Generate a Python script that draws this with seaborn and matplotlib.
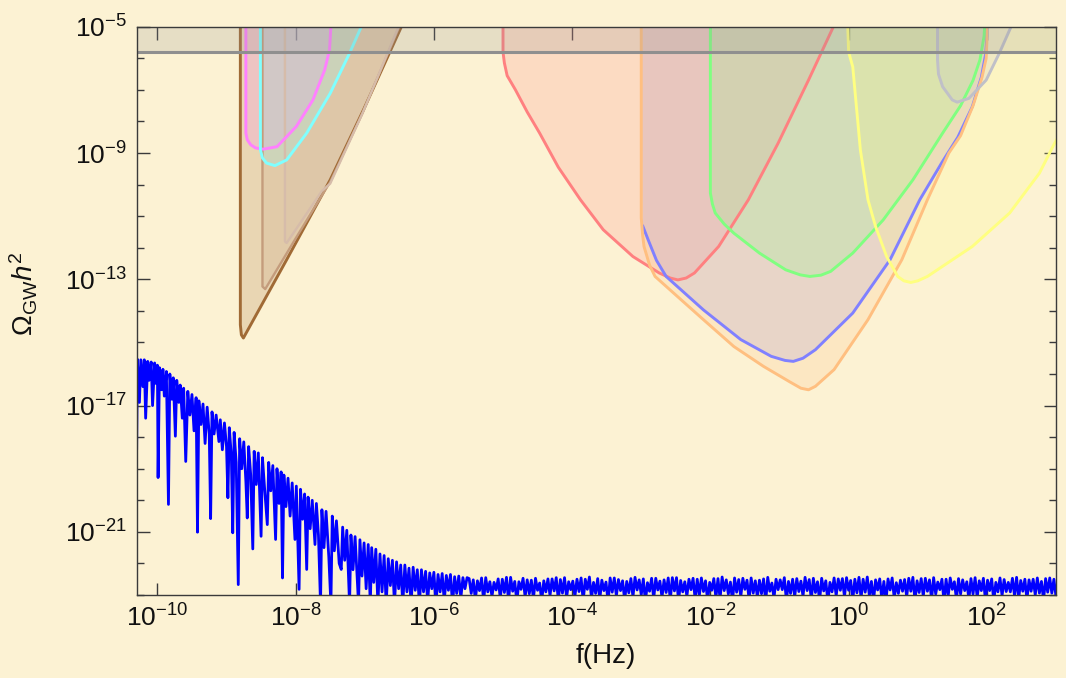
import numpy as np
import matplotlib
matplotlib.use('Agg')
import matplotlib.pyplot as plt
import seaborn as sns
from matplotlib.ticker import FixedLocator, FuncFormatter, NullFormatter

# ── Data (log10 f [Hz], log10 Omega_GW h^2) ─────────────────────────────────
brown_a_f = [-8.80, -8.80, -8.785, -8.756, -8.13, -7.50, -7.02, -6.47, -6.37]
brown_a_o = [-4.5, -14.44, -14.76, -14.86, -12.38, -9.85, -7.64, -5.0, -4.5]

brown_b_f = [-8.48, -8.48, -8.44, -8.02, -7.60, -7.50, -7.03, -6.50, -6.40]
brown_b_o = [-4.5, -13.23, -13.31, -11.78, -10.27, -9.92, -7.72, -5.0, -4.5]

brown_c_f = [-8.155, -8.155, -8.13, -7.85, -7.62, -7.50, -7.04, -6.51, -6.41]
brown_c_o = [-4.5, -11.80, -11.85, -10.95, -10.20, -9.97, -7.78, -5.0, -4.5]

magenta_f = [-8.72, -8.72, -8.70, -8.65, -8.58, -8.47, -8.27, -7.99, -7.75, -7.58, -7.51, -7.49, -7.49]
magenta_o = [-4.5, -8.37, -8.58, -8.74, -8.84, -8.88, -8.80, -8.16, -7.32, -6.37, -5.74, -5.0, -4.5]

cyan_f = [-8.51, -8.51, -8.48, -8.42, -8.30, -8.13, -7.84, -7.50, -7.22, -7.05, -6.99]
cyan_o = [-4.5, -8.90, -9.16, -9.32, -9.40, -9.22, -8.37, -7.11, -5.84, -5.0, -4.7]

red_f = [-5.00, -5.00, -4.98, -4.94, -4.82, -4.65, -4.47, -4.20, -3.88, -3.55, -3.12,
         -2.74, -2.58, -2.47, -2.35, -2.23, -1.88, -1.45, -1.02, -0.58, -0.22, -0.10]
red_o = [-4.5, -5.8, -6.15, -6.55, -7.00, -7.70, -8.37, -9.45, -10.48, -11.43, -12.28,
         -12.80, -12.96, -13.02, -12.96, -12.80, -11.96, -10.48, -8.69, -6.69, -5.0, -4.5]

orange_f = [-3.00, -3.00, -2.98, -2.96, -2.88, -2.80, -2.53, -2.10, -1.66, -1.23, -0.85,
            -0.69, -0.58, -0.48, -0.21, 0.28, 0.77, 1.14, 1.45, 1.62, 1.80, 1.93,
            1.99, 2.00, 2.00]
orange_o = [-4.5, -11.06, -11.60, -11.96, -12.55, -12.91, -13.44, -14.28, -15.13, -15.76, -16.25,
            -16.45, -16.50, -16.39, -15.86, -14.28, -12.38, -10.48, -9.00, -8.45, -7.50, -6.60,
            -6.00, -5.5, -4.5]

blue_f = [-3.00, -2.98, -2.90, -2.78, -2.64, -2.10, -1.56, -1.12, -0.92, -0.80, -0.66,
          -0.48, 0.06, 0.60, 1.03, 1.35, 1.58, 1.79, 1.92, 1.985, 2.00, 2.00]
blue_o = [-4.5, -11.30, -11.75, -12.40, -12.91, -13.97, -14.91, -15.44, -15.57, -15.60, -15.50,
          -15.23, -14.07, -12.38, -10.48, -9.30, -8.50, -7.53, -6.60, -5.84, -5.3, -4.5]

green_f = [-2.00, -2.00, -1.97, -1.93, -1.80, -1.66, -1.29, -0.91, -0.70, -0.56, -0.40,
           -0.26, 0.06, 0.50, 0.93, 1.36, 1.62, 1.80, 1.90, 1.96, 1.98]
green_o = [-4.5, -10.27, -10.62, -10.90, -11.25, -11.54, -12.17, -12.70, -12.86, -12.91, -12.87,
           -12.75, -12.17, -11.12, -9.85, -8.37, -7.50, -6.70, -6.05, -5.3, -4.5]

yellow_f = [-0.02, 0.00, 0.06, 0.17, 0.28, 0.39, 0.55, 0.71, 0.80, 0.90, 1.00, 1.14,
            1.79, 2.33, 2.76, 2.98, 3.20, 3.60]
yellow_o = [-4.5, -5.8, -6.27, -8.90, -10.48, -11.33, -12.28, -12.91, -13.05, -13.10, -13.05, -12.91,
            -11.96, -10.90, -9.64, -8.69, -7.90, -4.5]

silver_f = [1.286, 1.286, 1.30, 1.36, 1.50, 1.57, 1.74, 1.99, 2.18, 2.35, 2.40]
silver_o = [-4.5, -6.05, -6.50, -6.90, -7.32, -7.39, -7.27, -6.69, -5.84, -5.0, -4.7]

bound_o = -5.79   # horizontal bound line

# computed spectrum: steep part
spectrum_slope = [
    (-10.30, -18.40), (-10.29, -15.53), (-10.26, -16.90), (-10.24, -15.55), (-10.21, -16.40),
    (-10.19, -15.55), (-10.17, -17.40), (-10.14, -15.60), (-10.12, -16.20), (-10.09, -15.62),
    (-10.07, -17.00), (-10.04, -15.65), (-10.02, -16.30), (-10.00, -15.72), (-9.99, -19.28),
    (-9.97, -15.80), (-9.94, -16.50), (-9.92, -15.85), (-9.90, -16.70), (-9.87, -15.92),
    (-9.84, -20.13), (-9.82, -16.00), (-9.79, -16.80), (-9.77, -16.12), (-9.74, -17.97),
    (-9.72, -16.20), (-9.69, -16.90), (-9.67, -16.35), (-9.64, -17.40), (-9.62, -16.45),
    (-9.59, -18.77), (-9.56, -16.55), (-9.53, -17.30), (-9.50, -16.65), (-9.47, -17.80),
    (-9.44, -16.75), (-9.42, -21.01), (-9.40, -16.85), (-9.37, -17.60), (-9.34, -16.95),
    (-9.31, -18.20), (-9.28, -17.05), (-9.25, -17.90), (-9.23, -20.58), (-9.21, -17.20),
    (-9.18, -17.90), (-9.15, -17.30), (-9.11, -18.14), (-9.09, -17.45), (-9.06, -18.40),
    (-9.03, -17.55), (-9.00, -18.30), (-8.98, -19.92), (-8.96, -17.70), (-8.93, -18.60),
    (-8.91, -21.03), (-8.89, -17.85), (-8.86, -18.80), (-8.83, -22.67), (-8.81, -18.05),
    (-8.78, -19.00), (-8.75, -18.15), (-8.72, -19.40), (-8.70, -20.56), (-8.68, -18.30),
    (-8.65, -19.20), (-8.62, -21.54), (-8.60, -18.45), (-8.57, -19.50), (-8.54, -18.50),
    (-8.50, -21.14), (-8.48, -18.65), (-8.45, -19.60), (-8.41, -20.77), (-8.39, -18.80),
    (-8.36, -19.70), (-8.33, -18.90), (-8.29, -21.24), (-8.27, -19.00), (-8.24, -20.10),
    (-8.21, -19.10), (-8.19, -22.46), (-8.17, -19.20), (-8.14, -20.20), (-8.11, -19.30),
    (-8.08, -20.50), (-8.05, -19.45), (-8.01, -21.24), (-7.99, -19.55), (-7.95, -22.82),
    (-7.93, -19.65), (-7.90, -20.60), (-7.87, -19.80), (-7.84, -22.19), (-7.82, -19.90),
    (-7.79, -20.90), (-7.76, -20.00), (-7.72, -21.40), (-7.70, -20.10), (-7.67, -21.10),
    (-7.64, -23.30), (-7.62, -20.30), (-7.59, -21.50), (-7.56, -20.35), (-7.52, -21.80),
    (-7.49, -23.30), (-7.47, -20.50), (-7.44, -21.60), (-7.41, -20.65), (-7.37, -22.00),
    (-7.34, -22.19), (-7.32, -20.85), (-7.29, -21.90), (-7.26, -20.95), (-7.22, -23.30),
    (-7.20, -21.10), (-7.17, -22.20), (-7.14, -21.15), (-7.09, -23.30), (-7.07, -21.25),
    (-7.04, -22.40), (-7.01, -21.35), (-6.98, -22.80), (-6.95, -21.40), (-6.92, -23.30),
    (-6.90, -21.50), (-6.87, -22.60), (-6.84, -21.55), (-6.81, -23.30), (-6.78, -21.70),
    (-6.75, -22.90), (-6.72, -21.75), (-6.69, -23.30), (-6.66, -21.85), (-6.63, -22.70),
    (-6.60, -21.90), (-6.57, -23.30), (-6.54, -21.95), (-6.51, -22.80), (-6.48, -22.05),
    (-6.45, -23.30), (-6.42, -22.05), (-6.39, -22.90), (-6.36, -22.15), (-6.33, -23.30),
    (-6.30, -22.12), (-6.27, -22.85), (-6.24, -22.20), (-6.21, -23.30), (-6.18, -22.20),
    (-6.15, -22.90), (-6.12, -22.25), (-6.09, -23.20), (-6.06, -22.30), (-6.03, -22.80),
    (-6.00, -22.28), (-5.97, -23.30), (-5.94, -22.35), (-5.91, -22.90), (-5.88, -22.32),
    (-5.85, -23.20), (-5.82, -22.38), (-5.79, -22.85), (-5.76, -22.35), (-5.73, -23.30),
    (-5.70, -22.42), (-5.67, -22.95), (-5.64, -22.40), (-5.61, -23.10), (-5.58, -22.45),
    (-5.55, -22.80), (-5.52, -22.45),
]

# computed spectrum: flat floor
spectrum_floor = [
    (-5.49, -22.48), (-5.46, -22.95), (-5.43, -22.52), (-5.40, -23.15), (-5.37, -22.55),
    (-5.34, -22.86), (-5.31, -22.46), (-5.28, -23.20), (-5.25, -22.45), (-5.22, -22.90),
    (-5.19, -22.58), (-5.16, -23.05), (-5.13, -22.60), (-5.10, -22.84), (-5.07, -22.49),
    (-5.04, -23.10), (-5.01, -22.50), (-4.98, -22.92), (-4.95, -22.44), (-4.92, -23.18),
    (-4.89, -22.44), (-4.86, -22.88), (-4.83, -22.57), (-4.80, -23.22), (-4.77, -22.58),
    (-4.74, -22.82), (-4.71, -22.47), (-4.68, -23.06), (-4.65, -22.52), (-4.62, -22.96),
    (-4.59, -22.53), (-4.56, -23.12), (-4.53, -22.47), (-4.50, -22.85), (-4.47, -22.62),
    (-4.44, -23.20), (-4.41, -22.55), (-4.38, -22.90), (-4.35, -22.49), (-4.32, -23.02),
    (-4.29, -22.49), (-4.26, -22.87), (-4.23, -22.45), (-4.20, -23.16), (-4.17, -22.51),
    (-4.14, -22.94), (-4.11, -22.45), (-4.08, -23.08), (-4.05, -22.58), (-4.02, -22.83),
    (-3.99, -22.56), (-3.96, -23.05), (-3.93, -22.50), (-3.90, -22.89), (-3.87, -22.46),
    (-3.84, -23.19), (-3.81, -22.50), (-3.78, -22.82), (-3.75, -22.43), (-3.72, -23.10),
    (-3.69, -22.60), (-3.66, -22.95), (-3.63, -22.48), (-3.60, -23.14), (-3.57, -22.53),
    (-3.54, -22.86), (-3.51, -22.59), (-3.48, -23.22), (-3.45, -22.46), (-3.42, -22.91),
    (-3.39, -22.46), (-3.36, -23.03), (-3.33, -22.51), (-3.30, -22.86), (-3.27, -22.55),
    (-3.24, -23.17), (-3.21, -22.57), (-3.18, -22.93), (-3.15, -22.48), (-3.12, -23.06),
    (-3.09, -22.44), (-3.06, -22.84), (-3.03, -22.52), (-3.00, -23.00), (-2.97, -22.49),
    (-2.94, -23.21), (-2.91, -22.61), (-2.88, -22.88), (-2.85, -22.47), (-2.82, -23.12),
    (-2.79, -22.47), (-2.76, -22.84), (-2.73, -22.56), (-2.70, -23.08), (-2.67, -22.52),
    (-2.64, -22.92), (-2.61, -22.46), (-2.58, -23.16), (-2.55, -22.45), (-2.52, -22.87),
    (-2.49, -22.45), (-2.46, -23.20), (-2.43, -22.54), (-2.40, -22.90), (-2.37, -22.58),
    (-2.34, -23.04), (-2.31, -22.50), (-2.28, -22.83), (-2.25, -22.47), (-2.22, -23.14),
    (-2.19, -22.50), (-2.16, -23.02), (-2.13, -22.46), (-2.10, -22.89), (-2.07, -22.55),
    (-2.04, -23.18), (-2.01, -22.60), (-1.98, -22.85), (-1.95, -22.48), (-1.92, -23.09),
    (-1.89, -22.48), (-1.86, -23.12), (-1.83, -22.43), (-1.80, -22.86), (-1.77, -22.52),
    (-1.74, -22.97), (-1.71, -22.59), (-1.68, -23.20), (-1.65, -22.46), (-1.62, -22.91),
    (-1.59, -22.51), (-1.56, -23.05), (-1.53, -22.47), (-1.50, -22.82), (-1.47, -22.53),
    (-1.44, -23.15), (-1.41, -22.46), (-1.38, -22.94), (-1.35, -22.55), (-1.32, -23.07),
    (-1.29, -22.53), (-1.26, -22.96), (-1.23, -22.49), (-1.20, -23.21), (-1.17, -22.44),
    (-1.14, -22.88), (-1.11, -22.62), (-1.08, -23.10), (-1.05, -22.50), (-1.02, -22.83),
    (-0.99, -22.52), (-0.96, -22.83), (-0.93, -22.45), (-0.90, -23.18), (-0.87, -22.57),
    (-0.84, -22.95), (-0.81, -22.50), (-0.78, -23.06), (-0.75, -22.48), (-0.72, -22.89),
    (-0.69, -22.56), (-0.66, -23.04), (-0.63, -22.44), (-0.60, -22.86), (-0.57, -22.51),
    (-0.54, -23.14), (-0.51, -22.47), (-0.48, -22.92), (-0.45, -22.58), (-0.42, -23.19),
    (-0.39, -22.47), (-0.36, -22.87), (-0.33, -22.55), (-0.30, -23.22), (-0.27, -22.60),
    (-0.24, -22.90), (-0.21, -22.46), (-0.18, -23.03), (-0.15, -22.49), (-0.12, -22.85),
    (-0.09, -22.48), (-0.06, -23.06), (-0.03, -22.45), (0.00, -22.85), (0.03, -22.54),
    (0.06, -23.16), (0.09, -22.50), (0.12, -22.93), (0.15, -22.44), (0.18, -23.10),
    (0.21, -22.50), (0.24, -22.91), (0.27, -22.43), (0.30, -23.02), (0.33, -22.57),
    (0.36, -23.20), (0.39, -22.52), (0.42, -22.84), (0.45, -22.49), (0.48, -23.12),
    (0.51, -22.57), (0.54, -23.20), (0.57, -22.49), (0.60, -22.84), (0.63, -22.46),
    (0.66, -23.10), (0.69, -22.61), (0.72, -22.95), (0.75, -22.53), (0.78, -22.88),
    (0.81, -22.51), (0.84, -23.06), (0.87, -22.47), (0.90, -22.88), (0.93, -22.44),
    (0.96, -23.18), (0.99, -22.55), (1.02, -22.92), (1.05, -22.48), (1.08, -23.04),
    (1.11, -22.47), (1.14, -22.88), (1.17, -22.52), (1.20, -23.14), (1.23, -22.45),
    (1.26, -22.97), (1.29, -22.59), (1.32, -22.83), (1.35, -22.50), (1.38, -23.21),
    (1.41, -22.50), (1.44, -23.04), (1.47, -22.46), (1.50, -22.82), (1.53, -22.58),
    (1.56, -23.14), (1.59, -22.48), (1.62, -22.97), (1.65, -22.52), (1.68, -22.86),
    (1.71, -22.58), (1.74, -23.14), (1.77, -22.48), (1.80, -22.97), (1.83, -22.45),
    (1.86, -23.08), (1.89, -22.55), (1.92, -22.86), (1.95, -22.47), (1.98, -23.19),
    (2.01, -22.53), (2.04, -22.86), (2.07, -22.49), (2.10, -23.20), (2.13, -22.60),
    (2.16, -22.90), (2.19, -22.46), (2.22, -23.02), (2.25, -22.51), (2.28, -22.89),
    (2.31, -22.60), (2.34, -22.90), (2.37, -22.47), (2.40, -23.02), (2.43, -22.44),
    (2.46, -23.12), (2.49, -22.54), (2.52, -22.88), (2.55, -22.50), (2.58, -23.15),
    (2.61, -22.52), (2.64, -22.88), (2.67, -22.50), (2.70, -23.00), (2.73, -22.46),
    (2.76, -22.94), (2.79, -22.57), (2.82, -23.16), (2.85, -22.48), (2.88, -22.91),
    (2.91, -22.46), (2.94, -22.94), (2.97, -22.50), (3.00, -23.05), (3.03, -22.49),
]

x_ticks = [-10, -8, -6, -4, -2, 0, 2]
y_major = [-21, -17, -13, -9, -5]
y_minor = list(range(-23, -4))

# ── Style ────────────────────────────────────────────────────────────────────
BG = '#FCF2D3'
FRAME = '#3a3a3a'
sns.set_theme(style='ticks', rc={'figure.facecolor': BG, 'axes.facecolor': BG,
                                 'savefig.facecolor': BG})
plt.rcParams['font.family'] = ['Liberation Sans', 'DejaVu Sans']
plt.rcParams['mathtext.fontset'] = 'custom'
plt.rcParams['mathtext.rm'] = 'Liberation Sans'
plt.rcParams['mathtext.it'] = 'Liberation Sans:italic'
plt.rcParams['mathtext.bf'] = 'Liberation Sans:bold'

fig, ax = plt.subplots(figsize=(10.66, 6.78), dpi=100)
fig.subplots_adjust(left=0.1282, right=0.9906, top=0.9606, bottom=0.1224)
ax.set_xscale('log')
ax.set_yscale('log')


def region(lf, lo, color, lw=2.1, skip=0, fill_alpha=0.2):
    fx = 10 ** np.asarray(lf)
    fy = 10 ** np.asarray(lo)
    ax.fill(fx, fy, color=color, alpha=fill_alpha, lw=0, zorder=2)
    sns.lineplot(x=fx[skip:], y=fy[skip:], sort=False, estimator=None,
                 color=color, lw=lw, ax=ax, zorder=3)


region(brown_a_f, brown_a_o, '#A06A35')
region(brown_b_f, brown_b_o, '#C49C7C', lw=1.7)
region(brown_c_f, brown_c_o, '#D6BCAA', lw=1.7)
region(magenta_f, magenta_o, '#FF80FF')
region(cyan_f, cyan_o, '#80FFFF')
region(red_f, red_o, '#FF8080')
region(blue_f, blue_o, '#8080FF', skip=1)
region(orange_f, orange_o, '#FFBF80')
region(green_f, green_o, '#80FF80')
region(yellow_f, yellow_o, '#FFFF80')
region(silver_f, silver_o, '#C0C0C8')

# horizontal bound with shading above
ax.axhspan(10 ** bound_o, 1e-3, color='#909090', alpha=0.2, lw=0, zorder=4)
ax.axhline(10 ** bound_o, color='#8F8F8F', lw=2.2, zorder=6)

# spectrum
spec = np.array(spectrum_slope + spectrum_floor)
sns.lineplot(x=10 ** spec[:, 0], y=10 ** spec[:, 1], sort=False, estimator=None,
             color='#0000FF', lw=2.0, ax=ax, zorder=7)

ax.set_xlim(10 ** -10.3, 1e3)
ax.set_ylim(1e-23, 1e-5)

fmt = FuncFormatter(lambda v, p: f'$10^{{{int(round(np.log10(v)))}}}$')
ax.xaxis.set_major_locator(FixedLocator([10.0 ** k for k in x_ticks]))
ax.xaxis.set_minor_locator(FixedLocator([]))
ax.xaxis.set_major_formatter(fmt)
ax.yaxis.set_major_locator(FixedLocator([10.0 ** k for k in y_major]))
ax.yaxis.set_minor_locator(FixedLocator([10.0 ** k for k in y_minor]))
ax.yaxis.set_major_formatter(fmt)
ax.yaxis.set_minor_formatter(NullFormatter())

ax.tick_params(which='both', direction='in', top=True, right=True,
               color=FRAME, width=1.0, labelsize=19, labelcolor='#111111')
ax.tick_params(which='major', length=9, pad=7)
ax.tick_params(which='minor', length=5)
for s in ax.spines.values():
    s.set_color(FRAME)
    s.set_linewidth(1.0)
    s.set_zorder(8)

ax.set_xlabel('f(Hz)', fontsize=20, color='#111111')
ax.set_ylabel(r'$\Omega_{\mathrm{GW}}h^2$', fontsize=20, color='#111111')
ax.xaxis.set_label_coords(0.51, -0.085)
ax.yaxis.set_label_coords(-0.105, 0.53)

fig.savefig('out.png', dpi=100)
